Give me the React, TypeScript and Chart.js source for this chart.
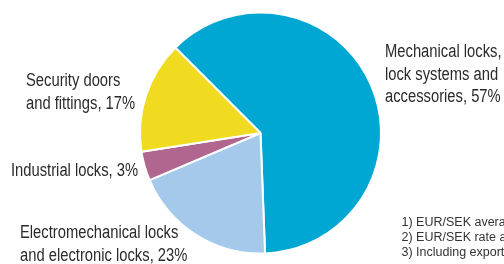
import React, { useEffect, useRef } from "react";
import { Chart, registerables } from "chart.js";

Chart.register(...registerables);

// Segments (order: clockwise starting upper-left)
const categories = [
  "Mechanical locks, lock systems and accessories",
  "Electromechanical locks and electronic locks",
  "Industrial locks",
  "Security doors and fittings",
];
// Slice shares as drawn in the picture
const sliceShares = [61.9, 19.2, 3.9, 15.0];
// Percent figures printed in the labels
const labelPercents = [57, 23, 3, 17];
const colors = ["#00a7d3", "#a4c9eb", "#b0668e", "#f0db21"];

const labelLines = [
  ["Mechanical locks,", "lock systems and", `accessories, ${labelPercents[0]}%`],
  ["Electromechanical locks", `and electronic locks, ${labelPercents[1]}%`],
  [`Industrial locks, ${labelPercents[2]}%`],
  ["Security doors", `and fittings, ${labelPercents[3]}%`],
];
const footnotes = [
  "1) EUR/SEK average rate",
  "2) EUR/SEK rate at year-end",
  "3) Including exports",
];

// Layout (positions of the text blocks)
const labelAnchors = [
  { x: 385, y: 57 },
  { x: 20, y: 238 },
  { x: 11, y: 176 },
  { x: 26, y: 86 },
];
const footAnchor = { x: 401.5, y: 226, lh: 15 };
const condense = 0.82;

const textPlugin = {
  id: "outsideText",
  afterDraw(chart: any) {
    const ctx = chart.ctx as CanvasRenderingContext2D;
    ctx.save();
    ctx.fillStyle = "#2b2b2b";
    ctx.textAlign = "left";
    ctx.textBaseline = "alphabetic";
    ctx.save();
    ctx.scale(condense, 1);
    ctx.font = "18px 'Liberation Sans', Arial, sans-serif";
    labelLines.forEach((lines, i) => {
      const a = labelAnchors[i];
      lines.forEach((t, j) => ctx.fillText(t, a.x / condense, a.y + j * 22.5));
    });
    ctx.restore();
    ctx.fillStyle = "#333333";
    ctx.font = "12.5px 'Liberation Sans', Arial, sans-serif";
    footnotes.forEach((t, j) => ctx.fillText(t, footAnchor.x, footAnchor.y + j * footAnchor.lh));
    ctx.restore();
  },
};

export default function App() {
  const ref = useRef<HTMLCanvasElement | null>(null);
  useEffect(() => {
    if (!ref.current) return;
    const chart = new Chart(ref.current, {
      type: "pie",
      data: {
        labels: categories,
        datasets: [
          {
            data: sliceShares,
            backgroundColor: colors,
            borderColor: "#ffffff",
            borderWidth: 2,
          },
        ],
      },
      options: {
        animation: false,
        responsive: false,
        rotation: -45,
        radius: 120.5,
        layout: { padding: { left: 17, right: 0, top: 2, bottom: 0 } },
        plugins: {
          legend: { display: false },
          tooltip: { enabled: false },
        },
      },
      plugins: [textPlugin],
    });
    return () => chart.destroy();
  }, []);
  return (
    <div style={{ position: "fixed", left: 0, top: 0, width: 504, height: 264, background: "#fff" }}>
      <canvas ref={ref} width={504} height={264} style={{ width: 504, height: 264, display: "block" }} />
    </div>
  );
}
